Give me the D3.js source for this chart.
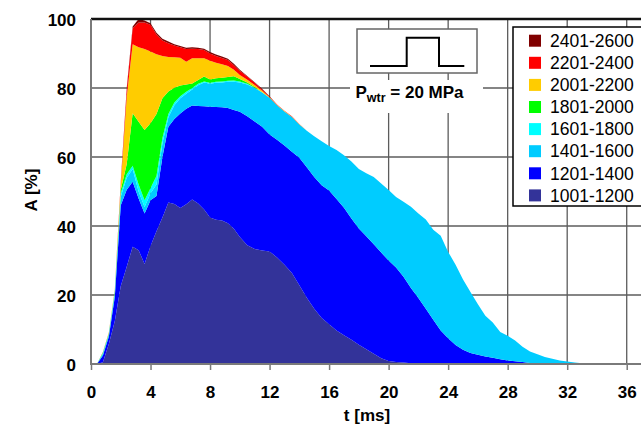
<!DOCTYPE html>
<html>
<head>
<meta charset="utf-8">
<script src="https://cdn.jsdelivr.net/npm/d3@7"></script>
<style>
  html, body { margin: 0; padding: 0; background: #fff; }
  svg { display: block; font-family: "Liberation Sans", Arial, sans-serif; }
</style>
</head>
<body>
<svg id="chart" width="641" height="426"></svg>
<script>
// Time axis of the measurement [ms]
const time = [0, 0.4, 0.8, 1.2, 1.6, 2.0, 2.4, 2.8, 3.2, 3.6, 4.0, 4.4, 4.8, 5.2, 5.6, 6.0, 6.4, 6.8, 7.2, 7.6, 8.0, 8.4, 8.8, 9.2, 9.6,
  10, 10.5, 11, 11.5, 12, 12.5, 13, 13.5, 14, 14.5, 15, 15.5, 16, 16.5, 17, 17.5, 18, 18.5, 19, 19.5, 20, 20.5, 21, 21.5, 22, 22.5, 23, 23.5, 24,
  24.5, 25, 25.5, 26, 26.5, 27, 27.5, 28, 28.5, 29, 29.5, 30, 30.5, 31, 31.5, 32, 32.5, 33, 33.5, 34, 37];

// Share A [%] of each class (stacked bottom to top)
const a1001 = [0, 0, 0.5, 5.8, 12.5, 22.6, 28.2, 34.0, 33.0, 29.0, 34.2, 38.5, 42.5, 46.8, 46.4, 45.2, 46.3, 47.7, 46.5, 44.8, 42.5, 41.8, 41.6, 40.8, 39.2,
  36.8, 34.4, 33.3, 32.9, 32.6, 30.9, 28.8, 26.4, 22.8, 19.2, 16.0, 13.3, 11.5, 9.7, 8.3, 7.0, 5.6, 4.3, 3.0, 1.7, 0.9, 0.6, 0.4, 0.25, 0.15, 0.1, 0.1, 0.05, 0.05,
  0, 0, 0, 0, 0, 0, 0, 0, 0, 0, 0, 0, 0, 0, 0, 0, 0, 0, 0, 0, 0];
const a1201 = [0, 0, 2.0, 2.2, 7.0, 23.4, 22.3, 18.8, 15.0, 14.6, 13.3, 10.2, 17.5, 22.0, 24.6, 27.4, 27.7, 27.2, 28.3, 29.9, 32.1, 32.7, 32.8, 33.4, 34.4,
  36.3, 37.4, 37.0, 35.9, 33.9, 34.1, 34.5, 35.1, 37.0, 37.8, 38.2, 38.5, 38.8, 38.1, 37.0, 35.2, 33.7, 32.7, 31.7, 30.6, 29.1, 27.4, 24.9, 21.75, 18.95, 15.9, 12.7, 9.65, 7.45,
  5.5, 4.1, 3.2, 2.7, 2.2, 1.8, 1.4, 1.0, 0.8, 0.6, 0.3, 0.1, 0, 0, 0, 0, 0, 0, 0, 0, 0];
const a1401 = [0, 0, 0.5, 0.6, 1.1, 2.5, 3.5, 3.7, 2.0, 1.9, 2.0, 3.3, 4.0, 2.7, 4.0, 4.4, 4.3, 4.7, 6.0, 6.9, 6.6, 7.0, 7.2, 7.6, 8.2,
  8.5, 9.2, 9.7, 9.9, 10.7, 10.0, 9.9, 10.1, 9.6, 10.6, 11.8, 12.8, 12.9, 14.2, 15.2, 16.5, 17.2, 18.3, 19.5, 20.0, 20.4, 20.4, 21.7, 23.6, 24.5, 25.9, 26.1, 27.5, 25.0,
  23.3, 20.4, 17.7, 14.6, 11.8, 10.2, 7.9, 7.2, 6.0, 4.4, 3.3, 2.7, 2.0, 1.5, 1.0, 0.7, 0.4, 0.2, 0.05, 0, 0];
const a1601 = [0, 0, 0.2, 0.2, 0.4, 1.0, 1.0, 1.0, 2.0, 2.0, 1.5, 2.5, 1.5, 1.0, 0.8, 0.6, 0.6, 0.4, 0.4, 0.3, 0.3, 0.3, 0.3, 0.3, 0.4,
  0.3, 0.2, 0.1, 0.05, 0, 0, 0, 0, 0, 0, 0, 0, 0, 0, 0, 0, 0, 0, 0, 0, 0, 0, 0, 0, 0, 0, 0, 0, 0,
  0, 0, 0, 0, 0, 0, 0, 0, 0, 0, 0, 0, 0, 0, 0, 0, 0, 0, 0, 0, 0];
const a1801 = [0, 0, 0.1, 0.1, 0.2, 1.0, 3.0, 15.2, 18.2, 20.3, 18.8, 18.0, 11.5, 6.5, 4.3, 3.1, 2.1, 1.3, 1.1, 1.4, 1.0, 1.0, 1.1, 1.1, 1.2,
  0.7, 0.4, 0.2, 0.05, 0, 0, 0, 0, 0, 0, 0, 0, 0, 0, 0, 0, 0, 0, 0, 0, 0, 0, 0, 0, 0, 0, 0, 0, 0,
  0, 0, 0, 0, 0, 0, 0, 0, 0, 0, 0, 0, 0, 0, 0, 0, 0, 0, 0, 0, 0];
const a2001 = [0, 0, 0.1, 0.2, 0.3, 1.5, 19.5, 20.0, 21.6, 23.5, 20.8, 17.3, 12.3, 10.0, 8.8, 8.1, 6.6, 7.3, 6.3, 5.3, 5.4, 4.5, 3.9, 3.2, 1.9,
  1.2, 0.8, 0.6, 0.4, 0.15, 0.1, 0.1, 0.1, 0.1, 0, 0, 0, 0, 0, 0, 0, 0, 0, 0, 0, 0, 0, 0, 0, 0, 0, 0, 0, 0,
  0, 0, 0, 0, 0, 0, 0, 0, 0, 0, 0, 0, 0, 0, 0, 0, 0, 0, 0, 0, 0];
const a2201 = [0, 0, 0.1, 0.1, 0.2, 1.0, 2.0, 4.6, 7.2, 7.7, 7.7, 5.7, 4.5, 4.0, 3.4, 3.0, 3.7, 2.8, 2.7, 2.4, 2.1, 2.0, 1.8, 1.7, 1.3,
  1.2, 0.9, 0.6, 0.4, 0.15, 0.1, 0.1, 0.1, 0.1, 0, 0, 0, 0, 0, 0, 0, 0, 0, 0, 0, 0, 0, 0, 0, 0, 0, 0, 0, 0,
  0, 0, 0, 0, 0, 0, 0, 0, 0, 0, 0, 0, 0, 0, 0, 0, 0, 0, 0, 0, 0];
const a2401 = [0, 0, 0, 0, 0, 0, 0.5, 0.5, 1.0, 0.6, 0.5, 0.5, 0.5, 0.5, 0.4, 0.4, 0.4, 0.4, 0.4, 0.4, 0.4, 0.4, 0.4, 0.4, 0.4,
  0.3, 0.2, 0.2, 0.2, 0.1, 0, 0, 0, 0, 0, 0, 0, 0, 0, 0, 0, 0, 0, 0, 0, 0, 0, 0, 0, 0, 0, 0, 0, 0,
  0, 0, 0, 0, 0, 0, 0, 0, 0, 0, 0, 0, 0, 0, 0, 0, 0, 0, 0, 0, 0];

const classes = ["1001-1200", "1201-1400", "1401-1600", "1601-1800", "1801-2000", "2001-2200", "2201-2400", "2401-2600"];
const classValues = [a1001, a1201, a1401, a1601, a1801, a2001, a2201, a2401];
const classColors = ["#333399", "#0000ff", "#00ccff", "#00ffff", "#00ff00", "#ffcc00", "#ff0000", "#800000"];

const xTicks = [0, 4, 8, 12, 16, 20, 24, 28, 32, 36];
const yTicks = [0, 20, 40, 60, 80, 100];

const svg = d3.select("#chart");
const W = 641, H = 426;
const plot = { left: 91, top: 19, right: 641.6, bottom: 364 };

svg.append("rect").attr("width", W).attr("height", H).attr("fill", "#fff");

const x = d3.scaleLinear().domain([0, 37]).range([plot.left, plot.right]);
const y = d3.scaleLinear().domain([0, 100]).range([plot.bottom, plot.top]);

// grid
const grid = svg.append("g").attr("stroke", "#5c5c5c").attr("stroke-width", 1.3);
xTicks.filter(d => d > 0).forEach(d => {
  grid.append("line").attr("x1", x(d)).attr("x2", x(d)).attr("y1", plot.top).attr("y2", plot.bottom);
});
yTicks.filter(d => d > 0 && d < 100).forEach(d => {
  grid.append("line").attr("x1", plot.left).attr("x2", W).attr("y1", y(d)).attr("y2", y(d));
});

// stacked areas
const rows = time.map((t, i) => {
  const r = { t };
  classes.forEach((c, k) => { r[c] = classValues[k][i]; });
  return r;
});
const stacked = d3.stack().keys(classes)(rows);
const area = d3.area()
  .x(d => x(d.data.t))
  .y0(d => y(d[0]))
  .y1(d => y(d[1]))
  .curve(d3.curveLinear);

svg.append("clipPath").attr("id", "plotClip")
  .append("rect").attr("x", plot.left).attr("y", plot.top - 2)
  .attr("width", W - plot.left).attr("height", plot.bottom - plot.top + 2);

svg.append("g").attr("clip-path", "url(#plotClip)")
  .selectAll("path").data(stacked).join("path")
  .attr("d", area)
  .attr("fill", (d, i) => classColors[i])
  .attr("stroke", "none");

// frame: black top edge, grey axes
svg.append("line").attr("x1", plot.left).attr("x2", W).attr("y1", plot.top).attr("y2", plot.top)
  .attr("stroke", "#111").attr("stroke-width", 2.5);
svg.append("line").attr("x1", plot.left).attr("x2", plot.left).attr("y1", plot.top).attr("y2", plot.bottom + 1)
  .attr("stroke", "#7a7a7a").attr("stroke-width", 2);

// x axis
const xAxis = d3.axisBottom(x).tickValues(xTicks).tickSize(6).tickPadding(14).tickFormat(d3.format("d"));
const gx = svg.append("g").attr("transform", `translate(0,${plot.bottom})`).call(xAxis);
gx.select(".domain").remove();
gx.append("line").attr("x1", plot.left).attr("x2", W).attr("y1", 0).attr("y2", 0)
  .attr("stroke", "#7a7a7a").attr("stroke-width", 2);
gx.selectAll(".tick line").attr("stroke", "#7a7a7a").attr("stroke-width", 1.5);
gx.selectAll(".tick text").attr("fill", "#000").attr("font-size", 17).attr("font-weight", "bold")
  .attr("font-family", "Liberation Sans, Arial, sans-serif").attr("dy", 0).attr("y", 34);

// y axis
const yAxis = d3.axisLeft(y).tickValues(yTicks).tickSize(0).tickPadding(15).tickFormat(d3.format("d"));
const gy = svg.append("g").attr("transform", `translate(${plot.left},0)`).call(yAxis);
gy.select(".domain").remove();
gy.selectAll(".tick text").attr("fill", "#000").attr("font-size", 17).attr("font-weight", "bold")
  .attr("font-family", "Liberation Sans, Arial, sans-serif").attr("dy", "0.36em");

// axis titles
svg.append("text").attr("x", 367).attr("y", 421).attr("text-anchor", "middle")
  .attr("font-size", 17).attr("font-weight", "bold").text("t [ms]");
svg.append("text").attr("transform", "translate(37,190) rotate(-90)").attr("text-anchor", "middle")
  .attr("font-size", 17).attr("font-weight", "bold").text("A [%]");

// injection pulse inset
svg.append("rect").attr("x", 357).attr("y", 29).attr("width", 120).attr("height", 44)
  .attr("fill", "#fff").attr("stroke", "#666").attr("stroke-width", 1.5);
svg.append("path")
  .attr("d", "M370,66 H406.7 V37.7 H439 V66 H464.3")
  .attr("fill", "none").attr("stroke", "#000").attr("stroke-width", 2);
svg.append("rect").attr("x", 350).attr("y", 80).attr("width", 133).attr("height", 33).attr("fill", "#fff");
const pLabel = svg.append("text").attr("x", 355.5).attr("y", 97.5)
  .attr("font-size", 17).attr("font-weight", "bold");
pLabel.append("tspan").text("P");
pLabel.append("tspan").attr("font-size", 12.5).attr("dy", 4).text("wtr");
pLabel.append("tspan").attr("dy", -4).text(" = 20 MPa");

// legend
const legend = svg.append("g");
legend.append("rect").attr("x", 513).attr("y", 27).attr("width", 140).attr("height", 179)
  .attr("fill", "#fff").attr("stroke", "#000").attr("stroke-width", 1.5);
const legendOrder = classes.map((c, i) => i).reverse();
legendOrder.forEach((k, row) => {
  const cy = 40.7 + row * 22.1;
  legend.append("rect").attr("x", 529).attr("y", cy - 6).attr("width", 12).attr("height", 12)
    .attr("fill", classColors[k]);
  legend.append("text").attr("x", 550).attr("y", cy + 6.2)
    .attr("font-size", 17.5).attr("fill", "#000").text(classes[k]);
});
</script>
</body>
</html>
